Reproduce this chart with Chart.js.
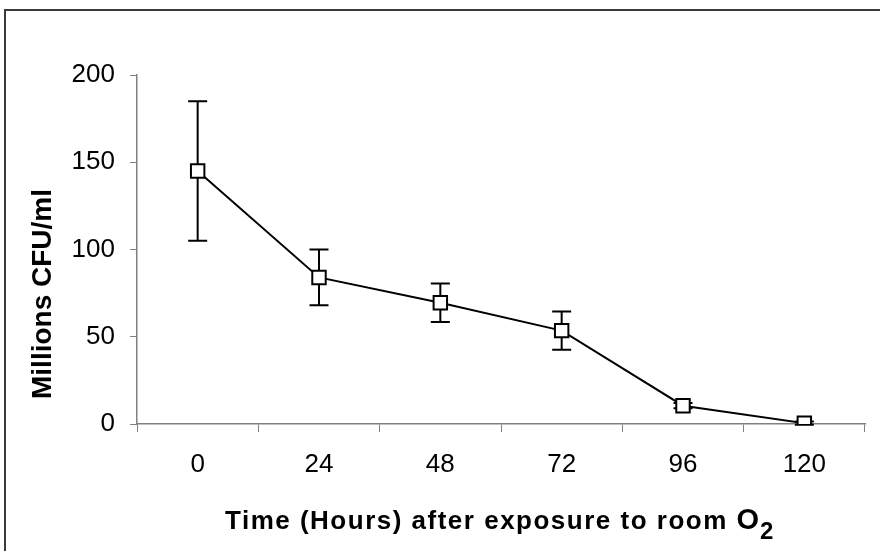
<!DOCTYPE html>
<html>
<head>
<meta charset="utf-8">
<script src="https://cdn.jsdelivr.net/npm/chart.js@4"></script>
<style>
  html, body { margin: 0; padding: 0; background: #ffffff; }
  #wrap { width: 880px; height: 551px; position: relative; }
</style>
</head>
<body>
<div id="wrap"><canvas id="chart" width="880" height="551"></canvas></div>
<script>
// Viable count over time after exposure to room oxygen
const hours = ['0', '24', '48', '72', '96', '120'];
const cfuMillions = [145, 84, 69.5, 53.5, 10.5, 0.5];
const cfuError = [40, 16, 11, 11, 1.5, 1];
const yTicks = [0, 50, 100, 150, 200];

const FONT = '"Liberation Sans", Arial, sans-serif';

// Outer frame around the whole figure
const framePlugin = {
  id: 'frame',
  beforeDraw(chart) {
    const ctx = chart.ctx;
    ctx.save();
    ctx.fillStyle = '#ffffff';
    ctx.fillRect(0, 0, chart.width, chart.height);
    ctx.strokeStyle = '#3a3a3a';
    ctx.lineWidth = 2;
    ctx.strokeRect(5, 10, 1000, 1000);
    ctx.restore();
  }
};

// Vertical error bars with caps, drawn beneath the line and markers
const errorBarPlugin = {
  id: 'errorBars',
  beforeDatasetsDraw(chart) {
    const ctx = chart.ctx;
    const yScale = chart.scales.y;
    const meta = chart.getDatasetMeta(0);
    ctx.save();
    ctx.strokeStyle = '#000000';
    ctx.lineWidth = 2;
    meta.data.forEach((pt, i) => {
      const x = pt.x;
      const yTop = yScale.getPixelForValue(cfuMillions[i] + cfuError[i]);
      const yBot = yScale.getPixelForValue(cfuMillions[i] - cfuError[i]);
      const cap = 9.5;
      ctx.beginPath();
      ctx.moveTo(x, yTop); ctx.lineTo(x, yBot);
      ctx.moveTo(x - cap, yTop); ctx.lineTo(x + cap, yTop);
      ctx.moveTo(x - cap, yBot); ctx.lineTo(x + cap, yBot);
      ctx.stroke();
    });
    ctx.restore();
  }
};

// Axis titles, including the subscript in O2
const titlesPlugin = {
  id: 'axisTitles',
  afterDraw(chart) {
    const ctx = chart.ctx;
    ctx.save();
    ctx.fillStyle = '#000000';
    ctx.textBaseline = 'alphabetic';

    // y-axis title
    ctx.save();
    ctx.translate(51, 294);
    ctx.rotate(-Math.PI / 2);
    ctx.textAlign = 'center';
    ctx.font = 'bold 28px ' + FONT;
    ctx.fillText('Millions CFU/ml', 0, 0);
    ctx.restore();

    // x-axis title
    ctx.textAlign = 'left';
    ctx.font = 'bold 26px ' + FONT;
    if ('letterSpacing' in ctx) ctx.letterSpacing = '1.5px';
    const main = 'Time (Hours) after exposure to room ';
    let x = 225;
    const base = 529;
    ctx.fillText(main, x, base);
    x += ctx.measureText(main).width;
    if ('letterSpacing' in ctx) ctx.letterSpacing = '0px';
    ctx.font = 'bold 29px ' + FONT;
    ctx.fillText('O', x, base);
    x += ctx.measureText('O').width + 1;
    ctx.font = 'bold 24px ' + FONT;
    ctx.fillText('2', x, base + 10);
    ctx.restore();
  }
};

new Chart(document.getElementById('chart'), {
  type: 'line',
  data: {
    labels: hours,
    datasets: [{
      data: cfuMillions,
      borderColor: '#000000',
      borderWidth: 2,
      tension: 0,
      fill: false,
      pointStyle: 'rect',
      pointRadius: 9.5,
      pointHoverRadius: 9.5,
      pointBorderWidth: 2,
      pointBorderColor: '#000000',
      pointBackgroundColor: '#ffffff'
    }]
  },
  options: {
    responsive: false,
    animation: false,
    devicePixelRatio: 1,
    events: [],
    layout: { padding: { top: 75, right: 15, bottom: 0, left: 0 } },
    plugins: {
      legend: { display: false },
      tooltip: { enabled: false },
      title: { display: false }
    },
    scales: {
      x: {
        type: 'category',
        offset: true,
        afterFit(scale) { scale.height = 127; },
        grid: {
          offset: true,
          drawOnChartArea: false,
          drawTicks: true,
          tickLength: 8,
          color: '#808080',
          lineWidth: 1
        },
        border: { display: true, color: '#808080', width: 1.5 },
        ticks: {
          color: '#000000',
          font: { family: FONT, size: 26 },
          padding: 17,
          maxRotation: 0,
          autoSkip: false
        }
      },
      y: {
        min: 0,
        max: 200,
        afterFit(scale) { scale.width = 137; },
        afterBuildTicks(scale) { scale.ticks = yTicks.map(v => ({ value: v })); },
        grid: {
          drawOnChartArea: false,
          drawTicks: true,
          tickLength: 7,
          color: '#808080',
          lineWidth: 1
        },
        border: { display: true, color: '#808080', width: 1.5 },
        ticks: {
          color: '#000000',
          font: { family: FONT, size: 26 },
          padding: 15
        }
      }
    }
  },
  plugins: [framePlugin, errorBarPlugin, titlesPlugin]
});
</script>
</body>
</html>
